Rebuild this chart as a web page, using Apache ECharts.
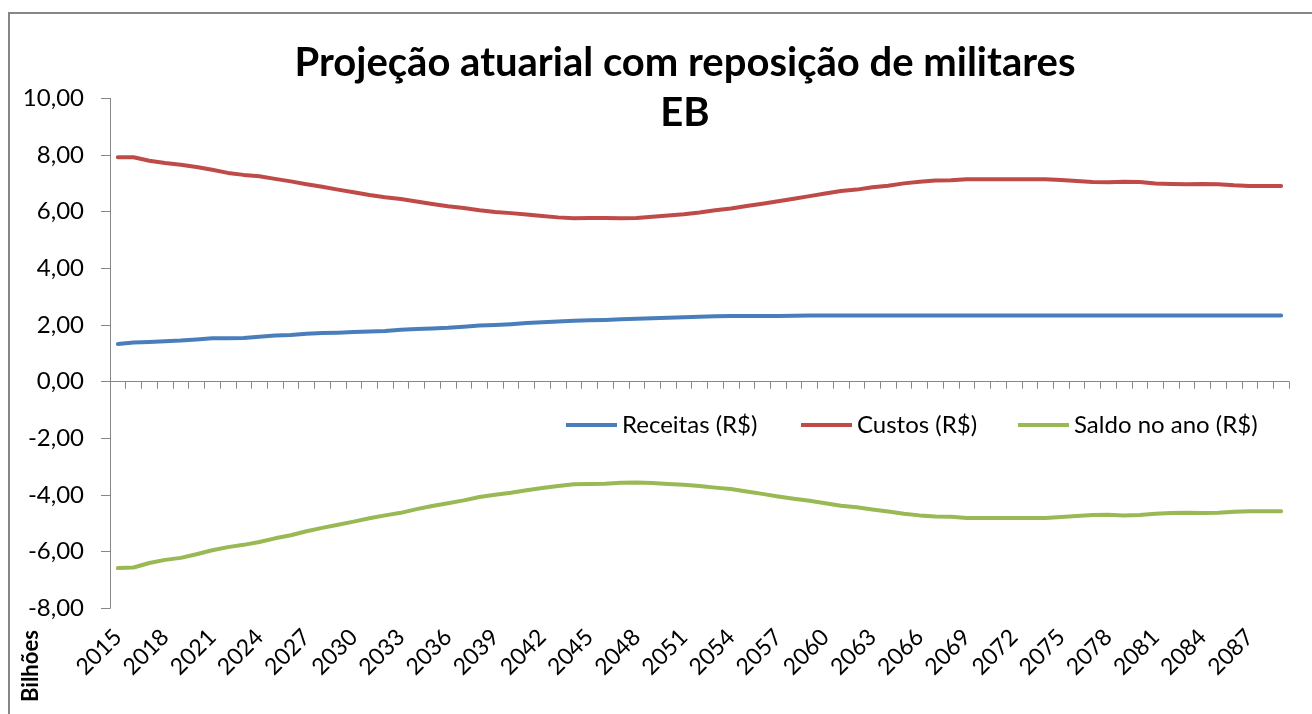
<!DOCTYPE html>
<html>
<head>
<meta charset="utf-8">
<script src="https://cdn.jsdelivr.net/npm/echarts@6/dist/echarts.min.js"></script>
<style>
html,body{margin:0;padding:0;background:#fff;}
#c{width:1312px;height:714px;}
</style>
</head>
<body>
<div id="c"></div>
<script>
var years = [];
for (var y = 2015; y <= 2089; y++) years.push(String(y));

var receitas = [1.33,1.38,1.40,1.43,1.45,1.49,1.53,1.53,1.54,1.59,1.63,1.65,1.69,1.72,1.73,1.75,1.77,1.79,1.83,1.86,
1.88,1.90,1.94,1.98,2.00,2.03,2.07,2.10,2.12,2.15,2.17,2.18,2.20,2.22,2.24,2.26,2.27,2.29,2.31,2.32,
2.32,2.32,2.32,2.33,2.34,2.34,2.34,2.34,2.34,2.34,2.34,2.34,2.34,2.34,2.34,2.34,2.34,2.34,2.34,2.34,
2.34,2.34,2.34,2.34,2.34,2.34,2.34,2.34,2.34,2.34,2.34,2.34,2.34,2.34,2.34];

var custos = [7.92,7.92,7.80,7.72,7.66,7.58,7.48,7.37,7.30,7.25,7.16,7.07,6.97,6.88,6.78,6.69,6.59,6.51,6.45,6.36,
6.27,6.19,6.13,6.05,5.99,5.95,5.90,5.85,5.80,5.77,5.78,5.78,5.77,5.78,5.82,5.87,5.91,5.97,6.05,6.11,
6.20,6.28,6.37,6.46,6.55,6.64,6.73,6.78,6.86,6.92,7.00,7.06,7.10,7.11,7.15,7.15,7.15,7.15,7.15,7.15,
7.12,7.08,7.05,7.04,7.06,7.05,7.00,6.98,6.97,6.98,6.97,6.93,6.91,6.91,6.91];

var saldo = [-6.58,-6.56,-6.40,-6.29,-6.22,-6.09,-5.95,-5.84,-5.76,-5.66,-5.53,-5.42,-5.28,-5.16,-5.05,-4.94,-4.82,-4.72,-4.63,-4.50,
-4.39,-4.29,-4.19,-4.07,-3.99,-3.92,-3.83,-3.75,-3.68,-3.62,-3.61,-3.60,-3.57,-3.56,-3.58,-3.61,-3.64,-3.68,-3.74,-3.79,
-3.88,-3.96,-4.05,-4.13,-4.20,-4.29,-4.38,-4.43,-4.51,-4.58,-4.66,-4.72,-4.76,-4.77,-4.81,-4.81,-4.81,-4.81,-4.81,-4.81,
-4.78,-4.74,-4.71,-4.70,-4.72,-4.71,-4.66,-4.64,-4.63,-4.64,-4.63,-4.59,-4.57,-4.57,-4.57];

var seriesNames = ['Receitas (R$)', 'Custos (R$)', 'Saldo no ano (R$)'];
var colors = ['#4A7EBB', '#BE4B48', '#98B954'];
var titleText = 'Projeção atuarial com reposição de militares\nEB';
var unitLabel = 'Bilhões';

var FONT = 'Lato';
var chart = echarts.init(document.getElementById('c'), null, {renderer: 'canvas'});

function mkLegend(i, left) {
  return {
    data: [seriesNames[i]], left: left, top: 408,
    icon: 'rect', itemWidth: 51, itemHeight: 4, itemGap: 6,
    textStyle: {fontFamily: FONT, fontSize: 24, color: '#000'}
  };
}

chart.setOption({
  animation: false,
  backgroundColor: '#fff',
  title: {
    text: titleText, left: 680, textAlign: 'center', top: 33,
    textStyle: {fontFamily: FONT, fontWeight: 'bold', fontSize: 40, lineHeight: 50, color: '#000'}
  },
  legend: [mkLegend(0, 561), mkLegend(1, 796), mkLegend(2, 1013)],
  grid: {left: 110, right: 23, top: 98.4, bottom: 105.7, containLabel: false},
  xAxis: [{
    type: 'category', data: years, boundaryGap: true,
    axisLine: {onZero: true, lineStyle: {color: '#868686', width: 1}},
    axisTick: {show: true, interval: 0, length: 7, lineStyle: {color: '#868686'}},
    axisLabel: {show: false},
    splitLine: {show: false}
  }, {
    type: 'category', data: years, boundaryGap: true, position: 'bottom',
    axisLine: {show: false, onZero: false},
    axisTick: {show: false},
    axisLabel: {show: true, interval: 2, rotate: 45, margin: 25,
      fontFamily: FONT, fontSize: 23, color: '#000'},
    splitLine: {show: false}
  }],
  yAxis: {
    type: 'value', min: -8, max: 10, interval: 2,
    axisLine: {show: true, lineStyle: {color: '#868686', width: 1}},
    axisTick: {show: true, length: 9, lineStyle: {color: '#868686'}},
    splitLine: {show: false},
    axisLabel: {margin: 26, fontFamily: FONT, fontSize: 24, color: '#000',
      formatter: function (v) { return v.toFixed(2).replace('.', ','); }}
  },
  series: [receitas, custos, saldo].map(function (d, i) {
    return {
      name: seriesNames[i], type: 'line', data: d, xAxisIndex: 0,
      showSymbol: false, symbol: 'none', smooth: false,
      itemStyle: {color: colors[i]},
      lineStyle: {color: colors[i], width: 4, cap: 'round', join: 'round'}
    };
  }),
  graphic: [{
    type: 'rect', silent: true, z: -1,
    shape: {x: 9, y: 13, width: 1340, height: 760},
    style: {fill: 'none', stroke: '#868686', lineWidth: 2}
  }, {
    type: 'text', x: 42, y: 702, rotation: Math.PI / 2,
    style: {text: unitLabel, fontFamily: FONT, fontWeight: 'bold', fontSize: 22,
      fill: '#000', textAlign: 'left', textVerticalAlign: 'bottom'}
  }]
});
</script>
</body>
</html>
